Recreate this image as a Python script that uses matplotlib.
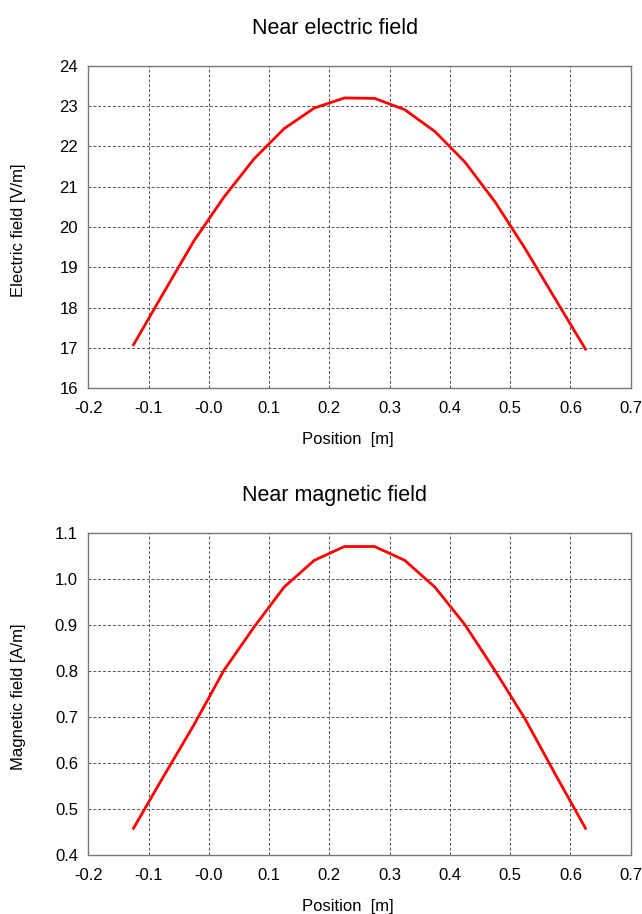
import matplotlib
matplotlib.use("Agg")
import matplotlib.pyplot as plt

plt.rcParams['font.family'] = ['Liberation Sans', 'DejaVu Sans']

position = [-0.125, -0.075, -0.025, 0.025, 0.075, 0.125, 0.175, 0.225,
            0.275, 0.325, 0.375, 0.425, 0.475, 0.525, 0.575, 0.625]
e_field = [17.08, 18.37, 19.65, 20.74, 21.69, 22.44, 22.95, 23.20,
           23.19, 22.91, 22.37, 21.61, 20.62, 19.46, 18.21, 16.97]
h_field = [0.458, 0.571, 0.682, 0.801, 0.895, 0.982, 1.040, 1.070,
           1.070, 1.040, 0.982, 0.900, 0.800, 0.695, 0.575, 0.458]

x_ticks = [-0.2, -0.1, 0.0, 0.1, 0.2, 0.3, 0.4, 0.5, 0.6, 0.7]
x_ticklabels = ['-0.2', '-0.1', '-0.0', '0.1', '0.2', '0.3', '0.4', '0.5', '0.6', '0.7']
e_ticks = [16, 17, 18, 19, 20, 21, 22, 23, 24]
h_ticks = [0.4, 0.5, 0.6, 0.7, 0.8, 0.9, 1.0, 1.1]
h_ticklabels = ['0.4', '0.5', '0.6', '0.7', '0.8', '0.9', '1.0', '1.1']

fig = plt.figure(figsize=(6.42, 9.14), dpi=100)
W, H = 642.0, 914.0
LEFT, RIGHT = 88.3, 630.7
AX_H = 322.6

def make_axes(top_px, bottom_px):
    return fig.add_axes([LEFT / W, 1 - bottom_px / H, (RIGHT - LEFT) / W, (bottom_px - top_px) / H])

ax1 = make_axes(65.7, 388.3)
ax2 = make_axes(532.7, 855.0)

configs = [
    (ax1, e_field, e_ticks, [str(t) for t in e_ticks], (16, 24), 'Electric field [V/m]', 'Near electric field', 28),
    (ax2, h_field, h_ticks, h_ticklabels, (0.4, 1.1), 'Magnetic field [A/m]', 'Near magnetic field', 496),
]

for ax, vals, yt, ytl, ylim, ylabel, title, title_y in configs:
    ax.plot(position, vals, color='#ff0000', lw=2.0, solid_joinstyle='miter')
    ax.set_xlim(-0.2, 0.7)
    ax.set_ylim(*ylim)
    ax.set_xticks(x_ticks)
    ax.set_xticklabels(x_ticklabels)
    ax.set_yticks(yt)
    ax.set_yticklabels(ytl)
    ax.tick_params(axis='both', length=0, labelsize=12, colors='black')
    ax.tick_params(axis='y', pad=7.5)
    ax.tick_params(axis='x', pad=9)
    ax.grid(True, linestyle=(0, (3, 2)), color='#555555', lw=0.7)
    for s in ax.spines.values():
        s.set_color('#777777')
        s.set_linewidth(1.0)
    ax.set_xlabel('Position  [m]', fontsize=12)
    ax.xaxis.set_label_coords((348 - LEFT) / (RIGHT - LEFT), -44 / AX_H)
    ax.set_ylabel(ylabel, fontsize=12)
    ax.yaxis.set_label_coords((26 - LEFT) / (RIGHT - LEFT), 0.49)
    fig.text(335 / W, 1 - title_y / H, title, ha='center', va='center', fontsize=15.5)

fig.savefig('out.png', dpi=100)
